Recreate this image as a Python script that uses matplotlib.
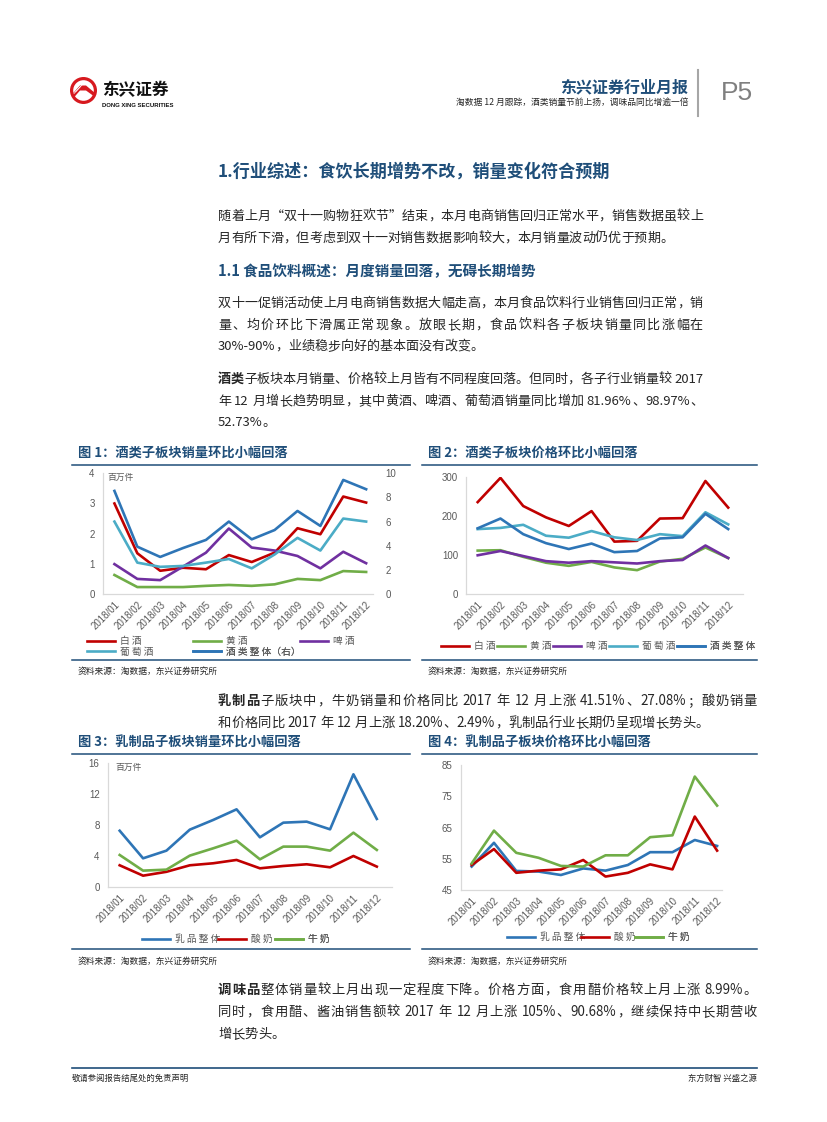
import matplotlib
matplotlib.use('Agg')
import matplotlib.pyplot as plt
from matplotlib.patches import Circle, Polygon
from matplotlib.font_manager import FontProperties

plt.rcParams['font.family'] = ['Noto Sans CJK SC', 'DejaVu Sans']
FAM = ['Noto Sans CJK SC', 'DejaVu Sans']

W, H = 827, 1122

# ---------------- data ----------------
months = ['2018/01', '2018/02', '2018/03', '2018/04', '2018/05', '2018/06',
          '2018/07', '2018/08', '2018/09', '2018/10', '2018/11', '2018/12']

# Figure 1: liquor sales volume (million pieces)
baijiu_vol = [3.00, 1.35, 0.77, 0.87, 0.82, 1.29, 1.06, 1.37, 2.18, 1.98, 3.23, 3.03]
huangjiu_vol = [0.63, 0.23, 0.23, 0.23, 0.27, 0.30, 0.27, 0.32, 0.50, 0.46, 0.76, 0.73]
pijiu_vol = [0.99, 0.50, 0.46, 0.91, 1.37, 2.17, 1.54, 1.44, 1.26, 0.85, 1.40, 1.02]
putao_vol = [2.40, 1.04, 0.90, 0.93, 1.04, 1.16, 0.85, 1.31, 1.86, 1.44, 2.50, 2.40]
jiulei_vol = [8.54, 3.92, 3.07, 3.81, 4.48, 6.00, 4.53, 5.30, 6.88, 5.64, 9.45, 8.68]

# Figure 2: liquor prices
baijiu_price = [235, 297, 225, 196, 174, 212, 134, 136, 193, 194, 289, 221]
huangjiu_price = [111, 112, 95, 80, 72, 82, 68, 61, 83, 90, 119, 92]
pijiu_price = [99, 110, 97, 84, 80, 84, 81, 78, 84, 87, 124, 92]
putao_price = [166, 169, 177, 149, 144, 161, 145, 138, 153, 148, 209, 178]
jiulei_price = [168, 193, 153, 130, 115, 129, 107, 110, 142, 145, 205, 166]

# Figure 3: dairy sales volume (million pieces)
dairy_vol = [7.30, 3.74, 4.73, 7.44, 8.69, 10.06, 6.45, 8.34, 8.47, 7.48, 14.58, 8.82]
yogurt_vol = [2.84, 1.50, 2.00, 2.84, 3.10, 3.53, 2.45, 2.75, 2.97, 2.58, 4.04, 2.67]
milk_vol = [4.17, 2.15, 2.28, 4.09, 5.03, 6.02, 3.61, 5.25, 5.25, 4.73, 7.05, 4.82]

# Figure 4: dairy prices
dairy_price = [52.5, 60.1, 51.1, 50.9, 49.8, 51.9, 51.2, 53.0, 57.1, 57.1, 61.0, 59.1]
yogurt_price = [53.0, 58.1, 50.5, 51.2, 51.6, 54.6, 49.3, 50.5, 53.2, 51.6, 68.5, 57.6]
milk_price = [53.5, 64.0, 56.9, 55.3, 52.7, 52.5, 56.1, 56.1, 61.9, 62.5, 81.3, 72.0]

# ---------------- styles ----------------
RED = '#C00000'
GREEN = '#70AD47'
PURPLE = '#7030A0'
LBLUE = '#4BACC6'
BLUE = '#2E75B6'
NAVY = '#1F4E79'
TXT = '#262626'
GRAY = '#595959'
LW = 1.9

fig = plt.figure(figsize=(W / 100, H / 100), dpi=100)
renderer = fig.canvas.get_renderer()

# overlay axes in page pixel coordinates
ov = fig.add_axes([0, 0, 1, 1])
ov.set_xlim(0, W)
ov.set_ylim(H, 0)
ov.axis('off')


def px_ax(left, right, top, bottom):
    return fig.add_axes([left / W, 1 - bottom / H, (right - left) / W, (bottom - top) / H])


# ---------------- text helpers ----------------
_cache = {}


def tw(s, size, weight):
    key = (s, size, weight)
    if key not in _cache:
        fp = FontProperties(family=FAM, size=size, weight=weight)
        w, h, d = renderer.get_text_width_height_descent(s, fp, ismath=False)
        _cache[key] = w
    return _cache[key]


def tokenize(s):
    out, buf = [], ''
    for ch in s:
        if ord(ch) < 128 and ch != ' ':
            buf += ch
        else:
            if buf:
                out.append(buf)
                buf = ''
            out.append(ch)
    if buf:
        out.append(buf)
    return out


def draw_line(segments, x0, yc, size, x1=None, color=TXT):
    toks = []
    for s, wgt in segments:
        for t in tokenize(s):
            toks.append((t, wgt))
    advs, offs = [], []
    for t, wgt in toks:
        ref = '中'
        adv = tw(ref + t + ref, size, wgt) - tw(ref + ref, size, wgt)
        advs.append(adv)
        if t == ' ':
            offs.append(0)
        else:
            offs.append(tw(ref + t, size, wgt) - tw(t, size, wgt)
                        - tw(ref + ref, size, wgt) + tw(ref, size, wgt))
    gap = 0
    if x1 is not None and len(toks) > 1:
        gap = (x1 - x0 - sum(advs)) / (len(toks) - 1)
    base = yc + size * 1.389 * 0.37
    x = x0
    for (t, wgt), a, o in zip(toks, advs, offs):
        if t != ' ':
            ov.text(x + o, base, t, fontsize=size, fontweight=wgt, color=color,
                    ha='left', va='baseline', family=FAM)
        x += a + gap


# ---------------- header ----------------
ov.add_patch(Circle((83.5, 90.5), 13.5, facecolor='#D7191F', edgecolor='none'))
ov.add_patch(Circle((83.5, 90.5), 10.3, facecolor='white', edgecolor='none'))
ov.add_patch(Polygon([(72.5, 94), (80, 85.5), (86, 85.5), (95, 93), (95, 97),
                      (86, 90.5), (80, 90.5), (73.5, 98)], closed=True,
                     facecolor='#D7191F', edgecolor='none'))
for dy in (0, 1.6):
    ov.plot([74 + dy, 80.5 + dy], [93.5 - dy, 86.5 - dy], color='white', lw=0.5)
ov.text(102, 90, '东兴证券', fontsize=12, fontweight='bold', color='#111111',
        ha='left', va='center')
ov.text(102, 105, 'DONG XING SECURITIES', fontsize=4.3, fontweight='bold', color='#111111',
        ha='left', va='center', family='Liberation Sans')

ov.text(688, 87, '东兴证券行业月报', fontsize=11.5, fontweight='bold', color=NAVY,
        ha='right', va='center')
ov.text(688, 102, '淘数据 12 月跟踪，酒类销量节前上扬，调味品同比增逾一倍', fontsize=6.3,
        color=TXT, ha='right', va='center')
ov.plot([698, 698], [70, 116], color='#A6A6A6', lw=1.5)
ov.text(721, 93, 'P5', fontsize=19, color='#7F7F7F', ha='left', va='center',
        family='Liberation Sans')

# ---------------- section texts ----------------
ov.text(218, 172, '1.行业综述：食饮长期增势不改，销量变化符合预期', fontsize=12.3,
        fontweight='bold', color=NAVY, ha='left', va='center')

BS = 9.4
draw_line([('随着上月“双十一购物狂欢节”结束，本月电商销售回归正常水平，销售数据虽较上', 'normal')],
          218, 215, BS, 703)
draw_line([('月有所下滑，但考虑到双十一对销售数据影响较大，本月销量波动仍优于预期。', 'normal')],
          218, 237, BS)

ov.text(218, 271, '1.1 食品饮料概述：月度销量回落，无碍长期增势', fontsize=10.5,
        fontweight='bold', color=NAVY, ha='left', va='center')

draw_line([('双十一促销活动使上月电商销售数据大幅走高，本月食品饮料行业销售回归正常，销', 'normal')],
          218, 302, BS, 703)
draw_line([('量、均价环比下滑属正常现象。放眼长期，食品饮料各子板块销量同比涨幅在', 'normal')],
          218, 324, BS, 703)
draw_line([('30%-90%，业绩稳步向好的基本面没有改变。', 'normal')], 218, 345, BS)

draw_line([('酒类', 'bold'), ('子板块本月销量、价格较上月皆有不同程度回落。但同时，各子行业销量较 2017', 'normal')],
          218, 378, BS, 703)
draw_line([('年 12 月增长趋势明显，其中黄酒、啤酒、葡萄酒销量同比增加 81.96%、98.97%、', 'normal')],
          218, 400, BS, 703)
draw_line([('52.73%。', 'normal')], 218, 421, BS)

BS2 = 9.6
draw_line([('乳制品', 'bold'), ('子版块中，牛奶销量和价格同比 2017 年 12 月上涨 41.51%、27.08%；酸奶销量', 'normal')],
          218, 700, BS2, 757)
draw_line([('和价格同比 2017 年 12 月上涨 18.20%、2.49%，乳制品行业长期仍呈现增长势头。', 'normal')],
          218, 722, BS2)

draw_line([('调味品', 'bold'), ('整体销量较上月出现一定程度下降。价格方面，食用醋价格较上月上涨 8.99%。', 'normal')],
          218, 989, BS2, 757)
draw_line([('同时，食用醋、酱油销售额较 2017 年 12 月上涨 105%、90.68%，继续保持中长期营收', 'normal')],
          218, 1011, BS2, 757)
draw_line([('增长势头。', 'normal')], 218, 1033, BS2)

# ---------------- figure frames ----------------
def frame(x0, x1, title_y, rule_y, bottom_y, src_y, title):
    ov.text(x0 + 6, title_y, title, fontsize=9.5, fontweight='bold', color=NAVY,
            ha='left', va='center')
    ov.plot([x0, x1], [rule_y, rule_y], color=NAVY, lw=1.1)
    ov.plot([x0, x1], [bottom_y, bottom_y], color=NAVY, lw=1.1)
    ov.text(x0 + 6, src_y, '资料来源：淘数据，东兴证券研究所', fontsize=6.3, color=TXT,
            ha='left', va='center')


frame(72, 410, 453, 465, 660, 671, '图 1：酒类子板块销量环比小幅回落')
frame(422, 757, 453, 465, 660, 671, '图 2：酒类子板块价格环比小幅回落')
frame(72, 410, 743, 754, 949, 961, '图 3：乳制品子板块销量环比小幅回落')
frame(422, 757, 743, 754, 949, 961, '图 4：乳制品子板块价格环比小幅回落')

# footer
ov.plot([72, 757], [1068, 1068], color=NAVY, lw=1.2)
ov.text(72, 1078, '敬请参阅报告结尾处的免责声明', fontsize=6, color=TXT, ha='left', va='center')
ov.text(757, 1078, '东方财智 兴盛之源', fontsize=6, color=TXT, ha='right', va='center')


# ---------------- chart helpers ----------------
def style_ax(ax, xmax, yticks, ylim):
    ax.set_facecolor('none')
    for s in ('top', 'right'):
        ax.spines[s].set_visible(False)
    for s in ('left', 'bottom'):
        ax.spines[s].set_color('#D9D9D9')
        ax.spines[s].set_linewidth(0.9)
    ax.set_xlim(-0.5, xmax)
    ax.set_ylim(*ylim)
    ax.set_yticks(yticks)
    ax.set_yticklabels([str(v) for v in yticks], fontsize=7, color=GRAY,
                       family='Liberation Sans')
    ax.set_xticks(range(len(months)))
    ax.set_xticklabels(months, rotation=45, ha='right', rotation_mode='anchor',
                       fontsize=7, color=GRAY, family='Liberation Sans')
    ax.tick_params(axis='both', length=0)
    ax.tick_params(axis='y', pad=6)
    ax.tick_params(axis='x', pad=4)


def legend_item(ax, line, label, x, y):
    leg = ax.legend([line], [label], loc='center left', bbox_to_anchor=(x / W, 1 - y / H),
                    bbox_transform=fig.transFigure, frameon=False, fontsize=7,
                    handlelength=2.9, handletextpad=0.5, borderpad=0, borderaxespad=0,
                    labelcolor=GRAY)
    ax.add_artist(leg)


x = range(len(months))

# Figure 1
ax1 = px_ax(103, 373, 473.3, 594)
style_ax(ax1, 11.3, [0, 1, 2, 3, 4], (0, 4))
ax1r = ax1.twinx()
ax1r.set_ylim(0, 10)
ax1r.set_yticks([0, 2, 4, 6, 8, 10])
ax1r.set_yticklabels(['0', '2', '4', '6', '8', '10'], fontsize=7, color=GRAY,
                     family='Liberation Sans')
ax1r.tick_params(axis='y', length=0, pad=9)
for s in ax1r.spines.values():
    s.set_visible(False)
l_bj, = ax1.plot(x, baijiu_vol, color=RED, lw=LW, zorder=3)
l_hj, = ax1.plot(x, huangjiu_vol, color=GREEN, lw=LW, zorder=3)
l_pj, = ax1.plot(x, pijiu_vol, color=PURPLE, lw=LW, zorder=3)
l_pt, = ax1.plot(x, putao_vol, color=LBLUE, lw=LW, zorder=3)
l_jl, = ax1r.plot(x, jiulei_vol, color=BLUE, lw=LW, zorder=3)
ov.text(107, 477, '百万件', fontsize=6.3, color=GRAY, ha='left', va='center')
legend_item(ax1, l_bj, '白 酒', 87, 641)
legend_item(ax1, l_hj, '黄 酒', 193, 641)
legend_item(ax1, l_pj, '啤 酒', 300, 641)
legend_item(ax1, l_pt, '葡 萄 酒', 87, 651.5)
legend_item(ax1, l_jl, '酒 类 整 体（右）', 193, 651.5)

# Figure 2
ax2 = px_ax(466.3, 743, 476.7, 594)
style_ax(ax2, 11.65, [0, 100, 200, 300], (0, 300))
m_bj, = ax2.plot(x, baijiu_price, color=RED, lw=LW)
m_hj, = ax2.plot(x, huangjiu_price, color=GREEN, lw=LW)
m_pj, = ax2.plot(x, pijiu_price, color=PURPLE, lw=LW)
m_pt, = ax2.plot(x, putao_price, color=LBLUE, lw=LW)
m_jl, = ax2.plot(x, jiulei_price, color=BLUE, lw=LW)
legend_item(ax2, m_bj, '白 酒', 441, 646)
legend_item(ax2, m_hj, '黄 酒', 497, 646)
legend_item(ax2, m_pj, '啤 酒', 553, 646)
legend_item(ax2, m_pt, '葡 萄 酒', 609, 646)
legend_item(ax2, m_jl, '酒 类 整 体', 677, 646)

# Figure 3
ax3 = px_ax(108, 392, 763.3, 887.3)
style_ax(ax3, 11.65, [0, 4, 8, 12, 16], (0, 16))
n_d, = ax3.plot(x, dairy_vol, color=BLUE, lw=LW)
n_y, = ax3.plot(x, yogurt_vol, color=RED, lw=LW)
n_m, = ax3.plot(x, milk_vol, color=GREEN, lw=LW)
ov.text(115, 767, '百万件', fontsize=6.3, color=GRAY, ha='left', va='center')
legend_item(ax3, n_d, '乳 品 整 体', 142, 939)
legend_item(ax3, n_y, '酸 奶', 218, 939)
legend_item(ax3, n_m, '牛 奶', 275, 939)

# Figure 4
ax4 = px_ax(460.5, 722, 765, 890)
style_ax(ax4, 11.22, [45, 55, 65, 75, 85], (45, 85))
p_d, = ax4.plot(x, dairy_price, color=BLUE, lw=LW)
p_y, = ax4.plot(x, yogurt_price, color=RED, lw=LW)
p_m, = ax4.plot(x, milk_price, color=GREEN, lw=LW)
legend_item(ax4, p_d, '乳 品 整 体', 507, 937)
legend_item(ax4, p_y, '酸 奶', 581, 937)
legend_item(ax4, p_m, '牛 奶', 635, 937)

fig.savefig('out.png', dpi=100, facecolor='white')
